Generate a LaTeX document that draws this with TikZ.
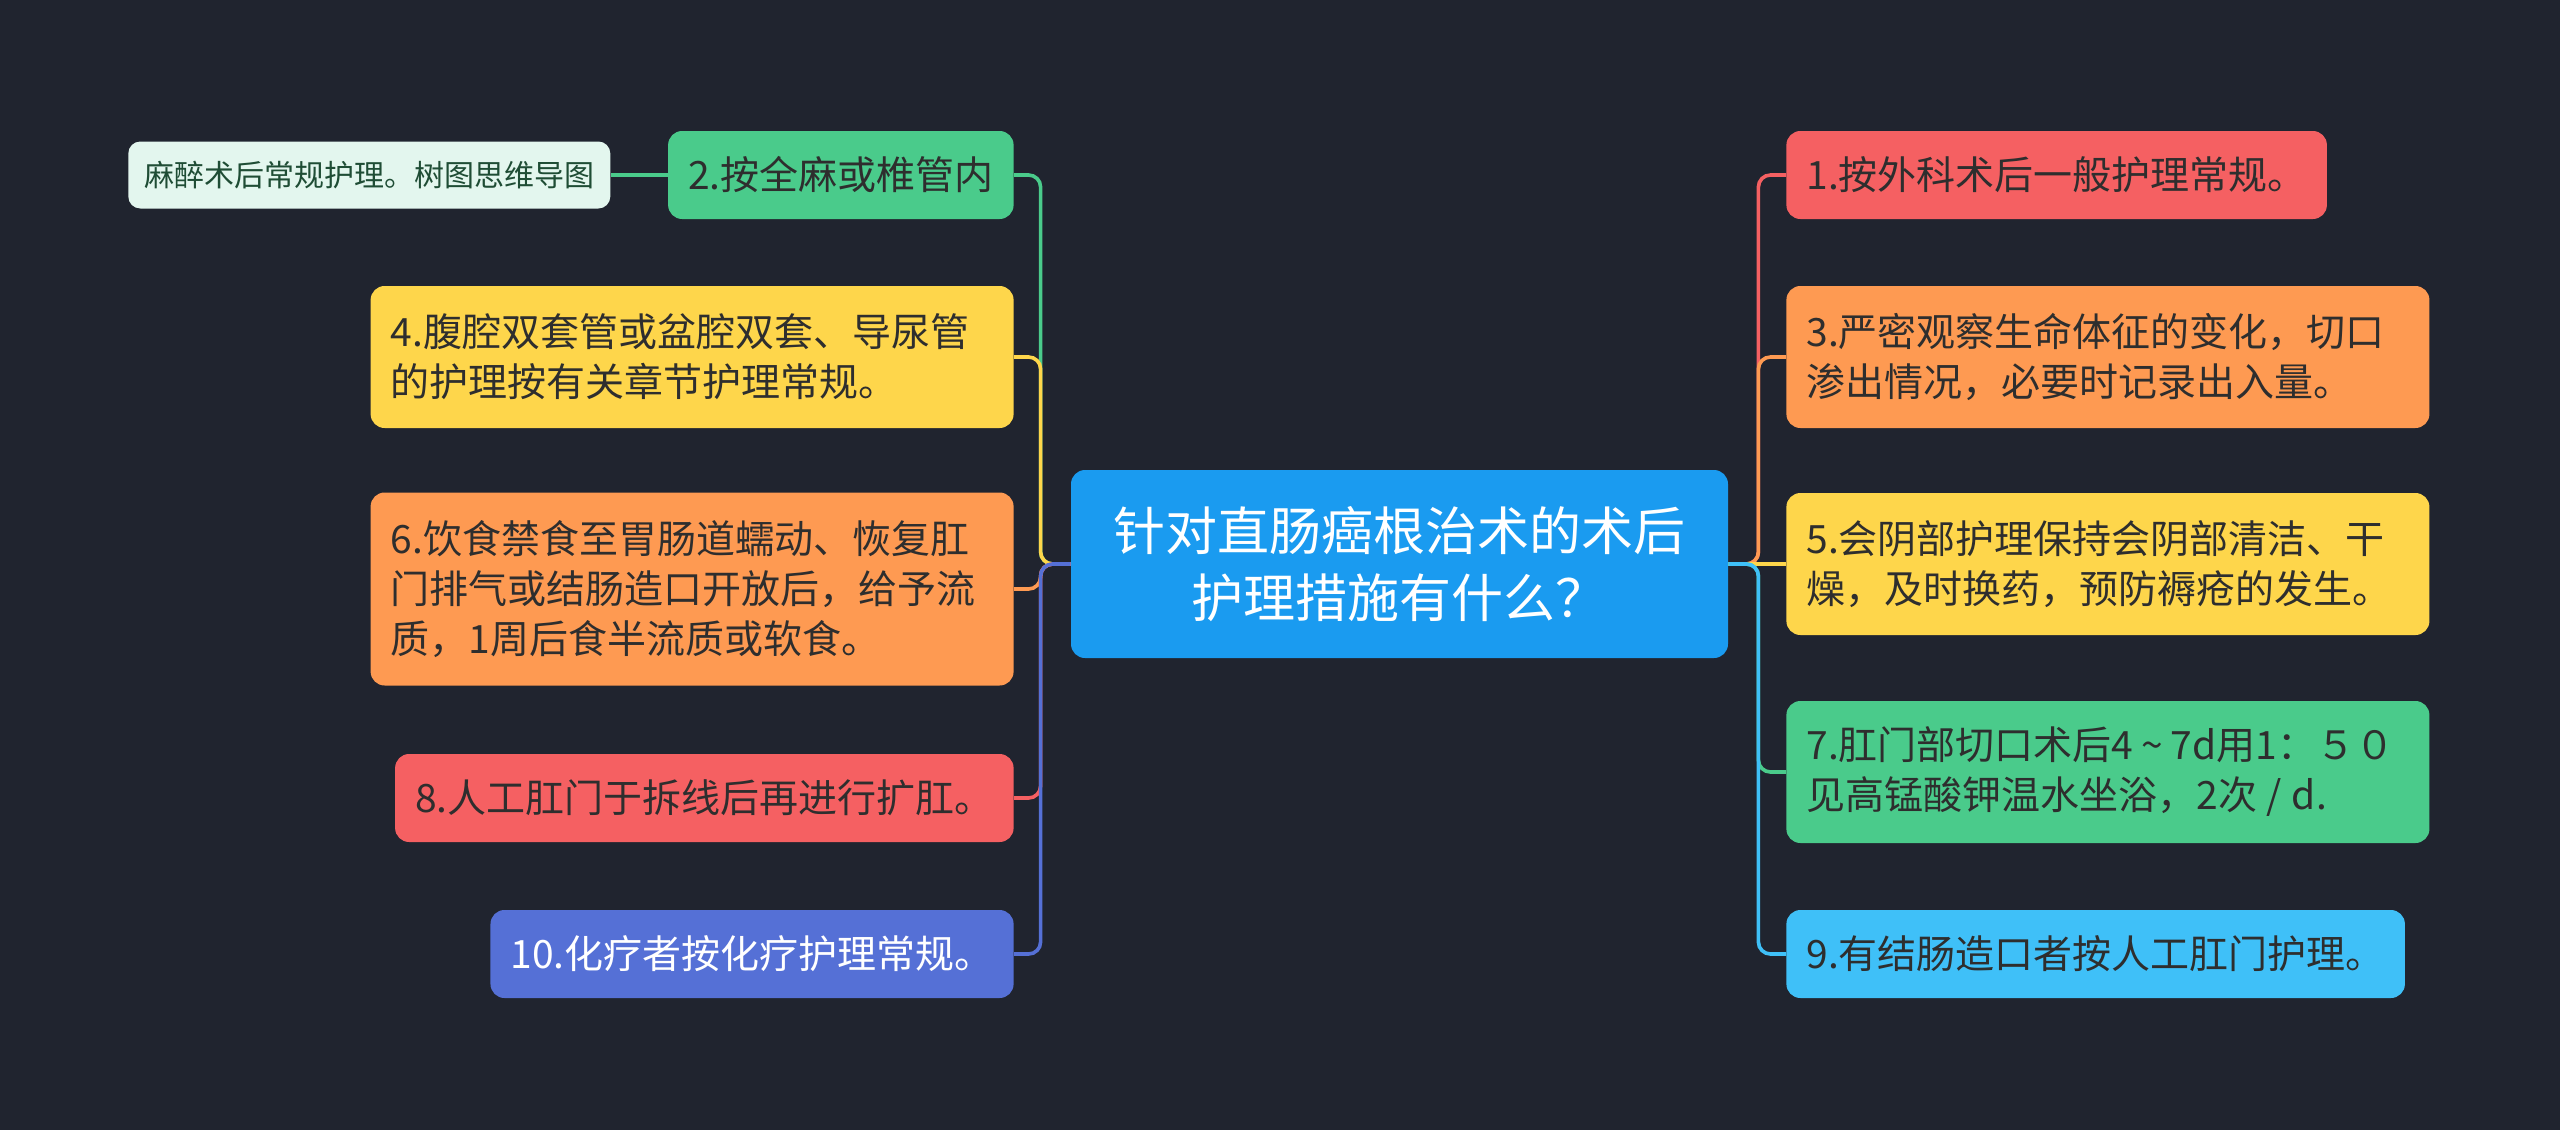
\documentclass[tikz,border=0pt]{standalone}
\usepackage{fontspec}
\setmainfont{Noto Sans CJK SC}
\usetikzlibrary{positioning,calc}

\definecolor{bgdark}{HTML}{20242F}
\definecolor{rootblue}{HTML}{1A9BF0}
\definecolor{cgreen}{HTML}{4ACB8B}
\definecolor{cyellow}{HTML}{FED64B}
\definecolor{corange}{HTML}{FE9A52}
\definecolor{cred}{HTML}{F56062}
\definecolor{cpurple}{HTML}{5570D6}
\definecolor{clblue}{HTML}{3FC0F8}
\definecolor{cmint}{HTML}{E3F6EE}
\definecolor{txtdark}{HTML}{2E2E2E}
\definecolor{txtgreen}{HTML}{1F4D35}

\begin{document}
\begin{tikzpicture}[x=0.5pt, y=-0.5pt,
    topic/.style={rectangle, rounded corners=7pt, inner xsep=10pt, inner ysep=0pt,
      minimum height=44pt, text=txtdark, font=\fontsize{19.5}{25}\selectfont},
    widetopic/.style={topic, text width=301.5pt, align=left},
    rootbox/.style={rectangle, rounded corners=7pt, fill=rootblue, text=white,
      minimum width=328.5pt, minimum height=94pt, align=center,
      font=\fontsize{26}{33.5}\selectfont},
    notebox/.style={rectangle, rounded corners=6pt, fill=cmint, text=txtgreen,
      inner xsep=8pt, inner ysep=0pt, minimum height=33.5pt,
      font=\fontsize{15}{18}\selectfont},
    branch/.style={line width=1.8pt, rounded corners=6pt}
]

\useasboundingbox (0,0) rectangle (2560,1130);
\fill[bgdark] (0,0) rectangle (2560,1130);

\node[rootbox] (root) at (1399.5,564) {针对直肠癌根治术的术后\\护理措施有什么？};

\node[topic, fill=cgreen, anchor=east] (n2) at (1014,175) {2.按全麻或椎管内};
\node[notebox, left=28.5pt of n2] (note) {麻醉术后常规护理。树图思维导图};
\node[widetopic, fill=cyellow, minimum height=71pt, anchor=east] (n4) at (1014,357)
  {4.腹腔双套管或盆腔双套、导尿管\\的护理按有关章节护理常规。};
\node[widetopic, fill=corange, minimum height=96.5pt, anchor=east] (n6) at (1014,589)
  {6.饮食禁食至胃肠道蠕动、恢复肛\\门排气或结肠造口开放后，给予流\\质，1周后食半流质或软食。};
\node[topic, fill=cred, anchor=east] (n8) at (1014,798) {8.人工肛门于拆线后再进行扩肛。};
\node[topic, fill=cpurple, text=white, anchor=east] (n10) at (1014,954) {10.化疗者按化疗护理常规。};

\node[topic, fill=cred, anchor=west] (n1) at (1786,175) {1.按外科术后一般护理常规。};
\node[widetopic, fill=corange, minimum height=71pt, anchor=west] (n3) at (1786,357)
  {3.严密观察生命体征的变化，切口\\渗出情况，必要时记录出入量。};
\node[widetopic, fill=cyellow, minimum height=71pt, anchor=west] (n5) at (1786,564)
  {5.会阴部护理保持会阴部清洁、干\\燥，及时换药，预防褥疮的发生。};
\node[widetopic, fill=cgreen, minimum height=71pt, anchor=west] (n7) at (1786,772)
  {7.肛门部切口术后4\kern0.2em\textasciitilde\kern0.2em7d用1：５０\\见高锰酸钾温水坐浴，2次\kern0.25em/\kern0.25em d.};
\node[topic, fill=clblue, anchor=west] (n9) at (1786,954) {9.有结肠造口者按人工肛门护理。};

\draw[branch, cgreen] (n2.west) -- (note.east);

\draw[branch, cgreen] (root.west) -- ++(-30,0) |- (n2.east);
\draw[branch, cyellow] (root.west) -- ++(-30,0) |- (n4.east);
\draw[branch, corange] (root.west) -- ++(-30,0) |- (n6.east);
\draw[branch, cred] (root.west) -- ++(-30,0) |- (n8.east);
\draw[branch, cpurple] (root.west) -- ++(-30,0) |- (n10.east);

\draw[branch, cred] (root.east) -- ++(30,0) |- (n1.west);
\draw[branch, corange] (root.east) -- ++(30,0) |- (n3.west);
\draw[branch, cyellow] (root.east) -- (n5.west);
\draw[branch, cgreen] (root.east) -- ++(30,0) |- (n7.west);
\draw[branch, clblue] (root.east) -- ++(30,0) |- (n9.west);

\end{tikzpicture}
\end{document}
